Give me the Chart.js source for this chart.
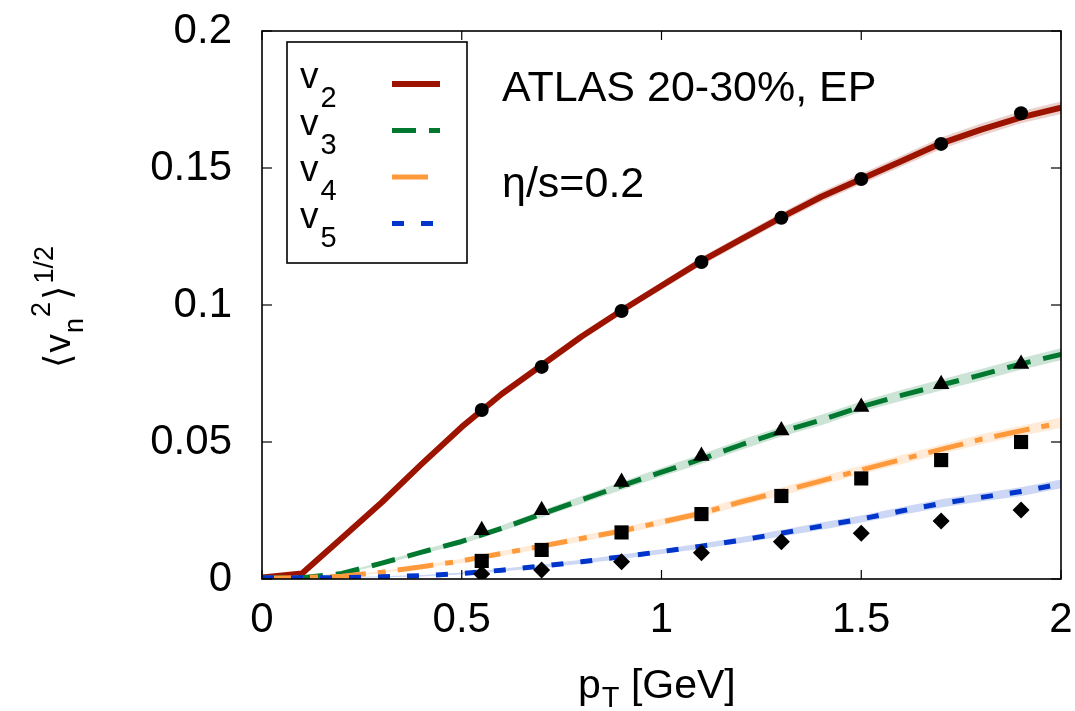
<!DOCTYPE html>
<html>
<head>
<meta charset="utf-8">
<script src="https://cdn.jsdelivr.net/npm/chart.js@4.4.1/dist/chart.umd.min.js"></script>
<style>
  html, body { margin: 0; padding: 0; background: #fff; }
  #wrap { width: 1075px; height: 711px; }
</style>
</head>
<body>
<div id="wrap"><canvas id="grafica" width="1075" height="711"></canvas></div>
<script>
// ==============================
// DATOS
// ==============================
const ptCurva = [0, 0.1, 0.2, 0.3, 0.4, 0.5, 0.6, 0.7, 0.8, 0.9, 1.0, 1.1, 1.2, 1.3, 1.4, 1.5, 1.6, 1.7, 1.8, 1.9, 2.0];
const v2Curva = [0.0005, 0.002, 0.015, 0.028, 0.042, 0.0555, 0.0675, 0.078, 0.0885, 0.098, 0.107, 0.116, 0.124, 0.132, 0.1395, 0.146, 0.1525, 0.159, 0.164, 0.1685, 0.172];
const v3Curva = [0.0003, 0.0005, 0.002, 0.0058, 0.0098, 0.0137, 0.0185, 0.0237, 0.0289, 0.034, 0.039, 0.0438, 0.049, 0.0538, 0.058, 0.0629, 0.067, 0.0708, 0.0745, 0.0785, 0.082];
const v4Curva = [0.0003, 0.0005, 0.001, 0.0025, 0.0045, 0.0066, 0.0093, 0.012, 0.0148, 0.0175, 0.0208, 0.024, 0.0282, 0.0319, 0.0358, 0.0398, 0.0436, 0.0473, 0.051, 0.0541, 0.057];
const v5Curva = [0.0005, 0.0005, 0.0005, 0.0008, 0.0012, 0.002, 0.0032, 0.0047, 0.0063, 0.0081, 0.010, 0.012, 0.0142, 0.0167, 0.0193, 0.0219, 0.0248, 0.0276, 0.0298, 0.0319, 0.0347];

// semi-anchura de la banda de error
const errV2 = [0, 0, 0.0002, 0.0003, 0.0004, 0.0005, 0.0006, 0.0008, 0.0010, 0.0012, 0.0014, 0.0015, 0.0016, 0.0017, 0.0018, 0.0019, 0.0020, 0.0021, 0.0022, 0.0022, 0.0023];
const errV3 = [0, 0, 0.0003, 0.0005, 0.0007, 0.0009, 0.0011, 0.0013, 0.0014, 0.0015, 0.0016, 0.0017, 0.0018, 0.0018, 0.0019, 0.0019, 0.0020, 0.0020, 0.0021, 0.0021, 0.0022];
const errV4 = [0, 0, 0.0002, 0.0004, 0.0006, 0.0008, 0.0009, 0.0010, 0.0011, 0.0012, 0.0013, 0.0014, 0.0015, 0.0015, 0.0016, 0.0016, 0.0017, 0.0017, 0.0018, 0.0018, 0.0019];
const errV5 = [0, 0, 0.0001, 0.0002, 0.0003, 0.0004, 0.0005, 0.0006, 0.0007, 0.0008, 0.0009, 0.0010, 0.0011, 0.0012, 0.0013, 0.0013, 0.0014, 0.0015, 0.0015, 0.0016, 0.0016];

// puntos ATLAS
const ptAtlas = [0.55, 0.7, 0.9, 1.1, 1.3, 1.5, 1.7, 1.9];
const v2Atlas = [0.0617, 0.0774, 0.0978, 0.1157, 0.1318, 0.146, 0.1588, 0.170];
const v3Atlas = [0.0178, 0.0251, 0.0354, 0.0449, 0.0542, 0.0628, 0.0711, 0.0785];
const v4Atlas = [0.0066, 0.0106, 0.017, 0.0237, 0.0303, 0.0367, 0.0434, 0.050];
const v5Atlas = [0.0018, 0.0033, 0.0063, 0.0096, 0.0136, 0.0167, 0.0212, 0.0252];

const xTicks = [0, 0.5, 1, 1.5, 2];
const yTicks = [0, 0.05, 0.1, 0.15, 0.2];
const ordenes = ['2', '3', '4', '5'];
const textoCentralidad = 'ATLAS 20-30%, EP';
const textoViscosidad = 'η/s=0.2';

const FUENTE = '"Liberation Sans", Arial, "DejaVu Sans", sans-serif';

// ==============================
// ESTILOS POR SERIE
// ==============================
const series = [
    { curva: v2Curva, err: errV2, atlas: v2Atlas, color: '#9c1400', banda: 'rgba(156,20,0,0.2)',   dash: [],              ancho: 6, marca: 'circle',   radio: 7 },
    { curva: v3Curva, err: errV3, atlas: v3Atlas, color: '#00782f', banda: 'rgba(0,120,47,0.2)',   dash: [24, 13],        ancho: 5, marca: 'triangle', radio: 9.5 },
    { curva: v4Curva, err: errV4, atlas: v4Atlas, color: '#ff9a3c', banda: 'rgba(255,154,60,0.2)', dash: [36, 12, 8, 12], ancho: 5, marca: 'rect',     radio: 10 },
    { curva: v5Curva, err: errV5, atlas: v5Atlas, color: '#0035cc', banda: 'rgba(0,53,204,0.2)',   dash: [12, 17],        ancho: 5, marca: 'rectRot',  radio: 8.5 }
];

function puntos(xs, ys, err, signo) {
    return xs.map((v, i) => ({ x: v, y: ys[i] + (err ? signo * err[i] : 0) }));
}

const datasets = [];
series.forEach((s, k) => {
    // banda: superior + inferior rellena hasta la anterior
    datasets.push({
        data: puntos(ptCurva, s.curva, s.err, 1),
        borderWidth: 0, pointRadius: 0, fill: false, tension: 0,
        order: 3 + k * 0.01
    });
    datasets.push({
        data: puntos(ptCurva, s.curva, s.err, -1),
        borderWidth: 0, pointRadius: 0, fill: '-1', backgroundColor: s.banda, tension: 0,
        order: 3 + k * 0.01
    });
    // curva hidro
    datasets.push({
        data: puntos(ptCurva, s.curva),
        borderColor: s.color, borderWidth: s.ancho, borderDash: s.dash,
        pointRadius: 0, tension: 0, borderJoinStyle: 'round', fill: false, order: 2 - k * 0.1
    });
});
series.forEach(s => {
    datasets.push({
        data: puntos(ptAtlas, s.atlas),
        showLine: false, pointStyle: s.marca, pointRadius: s.radio,
        pointBackgroundColor: '#000', pointBorderColor: '#000', pointBorderWidth: 0,
        order: 0
    });
});

// ==============================
// TEXTO CON SUB/SUPERINDICES
// ==============================
function textoRico(ctx, partes, x, y) {
    let cx = x;
    partes.forEach(p => {
        ctx.font = p[1] + 'px ' + FUENTE;
        ctx.fillText(p[0], cx, y + (p[2] || 0));
        cx += ctx.measureText(p[0]).width + (p[3] || 0);
    });
}

function linea(ctx, x1, y1, x2, y2) {
    ctx.beginPath();
    ctx.moveTo(x1, y1);
    ctx.lineTo(x2, y2);
    ctx.stroke();
}

const marcoPlugin = {
    id: 'marco',
    afterDraw(chart) {
        const { ctx, chartArea: a, scales } = chart;
        ctx.save();
        ctx.strokeStyle = '#000';
        ctx.fillStyle = '#000';
        ctx.setLineDash([]);

        // ticks hacia dentro
        ctx.lineWidth = 1.2;
        xTicks.forEach(v => {
            const px = scales.x.getPixelForValue(v);
            linea(ctx, px, a.bottom, px, a.bottom - 9);
            linea(ctx, px, a.top, px, a.top + 9);
        });
        yTicks.forEach(v => {
            const py = scales.y.getPixelForValue(v);
            linea(ctx, a.left, py, a.left + 10, py);
            linea(ctx, a.right, py, a.right - 10, py);
        });

        // marco
        ctx.lineWidth = 1.6;
        ctx.strokeRect(a.left, a.top, a.right - a.left, a.bottom - a.top);

        // leyenda
        ctx.strokeRect(287, 42, 180, 221);
        ctx.textBaseline = 'alphabetic';
        ctx.textAlign = 'left';
        series.forEach((s, i) => {
            const base = 88 + i * 46.5;
            textoRico(ctx, [['v', 37, 0, 2], [ordenes[i], 29, 19]], 300, base);
            ctx.save();
            ctx.strokeStyle = s.color;
            ctx.lineWidth = s.ancho;
            ctx.setLineDash(s.dash);
            linea(ctx, 392, base - 4, 440, base - 4);
            ctx.restore();
        });

        // anotaciones
        ctx.font = '43px ' + FUENTE;
        ctx.fillText(textoCentralidad, 502, 101);
        ctx.fillText(textoViscosidad, 502, 197);

        // titulo eje x
        textoRico(ctx, [['p', 41, 0, 1], ['T', 29, 9, 0], [' [GeV]', 41, 0]], 578, 698);

        // titulo eje y (rotado)
        ctx.save();
        ctx.translate(70, 368);
        ctx.rotate(-Math.PI / 2);
        textoRico(ctx, [
            ['⟨', 37, 0, 1], ['v', 37, 0, 1], ['n', 27, 13, 1], ['2', 27, -20, 2],
            ['⟩', 37, 0, 2], ['1/2', 27, -17]
        ], 0, 0);
        ctx.restore();

        ctx.restore();
    }
};

function sinRelleno(s) {
    s.paddingTop = 0;
    s.paddingBottom = 0;
    s.paddingLeft = 0;
    s.paddingRight = 0;
}

// ==============================
// GRAFICA
// ==============================
new Chart(document.getElementById('grafica'), {
    type: 'line',
    data: { datasets },
    options: {
        responsive: false,
        animation: false,
        devicePixelRatio: 1,
        layout: { padding: { top: 31, right: 14, bottom: 0, left: 0 } },
        plugins: { legend: { display: false }, tooltip: { enabled: false } },
        scales: {
            x: {
                type: 'linear', min: 0, max: 2,
                afterBuildTicks(s) { s.ticks = xTicks.map(v => ({ value: v })); },
                afterFit(s) { s.height = 132; sinRelleno(s); },
                ticks: {
                    padding: 16, color: '#000', maxRotation: 0, autoSkip: false,
                    font: { family: FUENTE, size: 42 },
                    callback: v => String(+v.toFixed(2))
                },
                grid: { display: false, drawTicks: false, tickLength: 0 },
                border: { display: false }
            },
            y: {
                type: 'linear', min: 0, max: 0.2,
                afterBuildTicks(s) { s.ticks = yTicks.map(v => ({ value: v })); },
                afterFit(s) { s.width = 262; sinRelleno(s); },
                ticks: {
                    padding: 30, color: '#000', autoSkip: false,
                    font: { family: FUENTE, size: 42 },
                    callback: v => String(+v.toFixed(2))
                },
                grid: { display: false, drawTicks: false, tickLength: 0 },
                border: { display: false }
            }
        }
    },
    plugins: [marcoPlugin]
});
</script>
</body>
</html>
